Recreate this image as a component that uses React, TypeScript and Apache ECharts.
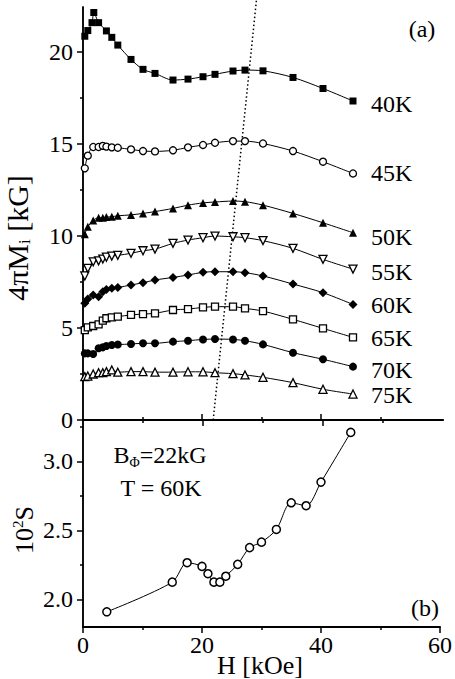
import React, { useEffect, useRef } from "react";
import * as echarts from "echarts";

// Field values H [kOe] of the M(H) curves
const fieldH = [0.3, 0.8, 1.7, 2.6, 3.3, 3.9, 4.8, 5.8, 8, 10, 12, 15, 17.5, 20, 22, 25, 27, 30, 35, 40, 45];
const fieldH40 = [0.3, 0.8, 1.5, 1.8, 2.6, 3.9, 4.8, 5.8, 8, 10, 12, 15, 17.5, 20, 22, 25, 27, 30, 35, 40, 45];

// 4πMi [kG] for each temperature
const m40 = [20.86, 21.17, 21.6, 22.15, 21.6, 21.15, 20.8, 20.38, 19.6, 19.06, 18.84, 18.48, 18.53, 18.66, 18.79, 18.97, 19.02, 18.98, 18.62, 18.02, 17.34];
const m45 = [13.68, 14.37, 14.84, 14.84, 14.9, 14.86, 14.82, 14.8, 14.71, 14.62, 14.6, 14.66, 14.82, 14.95, 15.07, 15.16, 15.16, 15.03, 14.62, 14.04, 13.4];
const m50 = [10.1, 10.5, 10.85, 11.0, 11.0, 11.03, 11.05, 11.1, 11.15, 11.23, 11.33, 11.5, 11.68, 11.8, 11.85, 11.9, 11.87, 11.68, 11.23, 10.72, 10.18];
const m55 = [7.83, 8.24, 8.6, 8.65, 8.75, 8.85, 8.91, 8.95, 9.06, 9.2, 9.29, 9.6, 9.78, 9.91, 10.0, 9.96, 9.91, 9.75, 9.33, 8.73, 8.2];
const m60 = [6.34, 6.58, 6.79, 6.7, 6.97, 7.1, 7.16, 7.2, 7.34, 7.46, 7.61, 7.75, 7.88, 8.03, 8.06, 8.06, 8.01, 7.83, 7.39, 6.92, 6.28];
const m65 = [4.89, 5.04, 5.11, 5.2, 5.4, 5.53, 5.58, 5.62, 5.71, 5.76, 5.8, 5.98, 6.03, 6.12, 6.16, 6.16, 6.07, 5.92, 5.47, 4.98, 4.49];
const m70 = [3.62, 3.62, 3.59, 3.9, 3.95, 4.02, 4.08, 4.1, 4.13, 4.17, 4.17, 4.26, 4.31, 4.38, 4.4, 4.38, 4.31, 4.11, 3.66, 3.3, 2.9];
const m75 = [2.36, 2.39, 2.5, 2.57, 2.57, 2.63, 2.72, 2.6, 2.63, 2.63, 2.6, 2.6, 2.62, 2.62, 2.57, 2.52, 2.45, 2.32, 2.03, 1.67, 1.41];

const tempLabels = ["40K", "45K", "50K", "55K", "60K", "65K", "70K", "75K"];

// dotted guide line (H, M)
const dotH = [21.7, 28.9];
const dotM = [0, 22.8];

// Panel (b): 10^2 S vs H, T = 60K
const sH = [4, 15, 17.5, 20, 21, 22, 23, 24, 26, 28, 30, 32.5, 35, 37.5, 40, 45];
const sVal = [1.91, 2.125, 2.266, 2.239, 2.186, 2.125, 2.125, 2.168, 2.254, 2.375, 2.415, 2.507, 2.7, 2.679, 2.85, 3.21];

// tick values
const xMajor = [0, 20, 40, 60];
const xMinor = [10, 30, 50];
const yTopMajor = [0, 5, 10, 15, 20];
const yTopMinor = [2.5, 7.5, 12.5, 17.5];
const yBotMajor = [2.0, 2.5, 3.0];
const yBotMinor = [2.25, 2.75, 3.25];

const FONT = "'Liberation Serif', 'Times New Roman', serif";

const zip = (xs: number[], ys: number[]) => xs.map((x, i) => [x, ys[i]]);

export default function App() {
  const ref = useRef<HTMLDivElement>(null);
  useEffect(() => {
    if (!ref.current) return;
    const chart = echarts.init(ref.current, undefined, { renderer: "svg" });
    const G0 = { left: 83, top: 7, width: 360, height: 413 };
    const G1 = { left: 83, top: 420, width: 360, height: 207 };
    const black = "#000";

    const xBase = (grid: number, position: string, opts: any) => ({
      type: "value",
      gridIndex: grid,
      position,
      min: 0,
      max: 60,
      splitLine: { show: false },
      axisLine: { show: false, lineStyle: { color: black, width: 1.5 } },
      axisTick: { show: false },
      axisLabel: { show: false },
      ...opts,
    });
    const yBase = (grid: number, position: string, min: number, max: number, opts: any) => ({
      type: "value",
      gridIndex: grid,
      position,
      min,
      max,
      splitLine: { show: false },
      axisLine: { show: false, lineStyle: { color: black, width: 1.5 } },
      axisTick: { show: false },
      axisLabel: { show: false },
      ...opts,
    });
    const tick = (vals: number[], len: number) => ({
      show: true,
      customValues: vals,
      length: len,
      inside: false,
      lineStyle: { color: black, width: 1.5 },
    });

    const lineSeries = (name: string, xs: number[], ys: number[], symbol: string, size: number, filled: boolean, rotate = 0) => ({
      type: "line",
      name,
      xAxisIndex: 0,
      yAxisIndex: 0,
      data: zip(xs, ys),
      smooth: 0.3,
      symbol,
      symbolSize: size,
      symbolRotate: rotate,
      showSymbol: true,
      lineStyle: { color: black, width: 1 },
      itemStyle: { color: filled ? black : "#fff", borderColor: black, borderWidth: filled ? 0 : 1.3 },
      z: 3,
    });

    const labelY = [104, 173, 237, 272, 305, 338, 370, 395];

    chart.setOption({
      animation: false,
      backgroundColor: "#fff",
      textStyle: { fontFamily: FONT },
      grid: [G0, G1],
      xAxis: [
        xBase(0, "bottom", { axisLine: { show: true, lineStyle: { color: black, width: 2 } }, axisTick: tick([20, 40], 6) }),
        xBase(0, "bottom", { axisTick: tick(xMinor, 3) }),
        xBase(0, "top", { axisLine: { show: true, lineStyle: { color: black, width: 1.5 } } }),
        xBase(1, "bottom", {
          axisLine: { show: true, lineStyle: { color: black, width: 2 } },
          axisTick: tick(xMajor, 6),
          axisLabel: { show: true, customValues: xMajor, color: black, fontFamily: FONT, fontSize: 24, margin: 6 },
        }),
        xBase(1, "bottom", { axisTick: tick(xMinor, 3) }),
        xBase(1, "top", { axisTick: tick([20, 40], 6) }),
        xBase(1, "top", { axisTick: tick(xMinor, 3) }),
      ],
      yAxis: [
        yBase(0, "left", 0, 22.45, {
          axisLine: { show: true, lineStyle: { color: black, width: 1.5 } },
          axisTick: tick(yTopMajor, 6),
          axisLabel: { show: true, customValues: yTopMajor, color: black, fontFamily: FONT, fontSize: 24, margin: 10 },
        }),
        yBase(0, "left", 0, 22.45, { axisTick: tick(yTopMinor, 3) }),
        yBase(0, "right", 0, 22.45, { axisLine: { show: true, lineStyle: { color: black, width: 1.5 } } }),
        yBase(1, "left", 1.8, 3.3, {
          axisLine: { show: true, lineStyle: { color: black, width: 1.5 } },
          axisTick: tick(yBotMajor, 6),
          axisLabel: {
            show: true,
            customValues: yBotMajor,
            color: black,
            fontFamily: FONT,
            fontSize: 24,
            margin: 10,
            formatter: (v: number) => v.toFixed(1),
          },
        }),
        yBase(1, "left", 1.8, 3.3, { axisTick: tick(yBotMinor, 3) }),
        yBase(1, "right", 1.8, 3.3, { axisLine: { show: true, lineStyle: { color: black, width: 1.5 } } }),
      ],
      series: [
        {
          type: "line",
          name: "guide",
          xAxisIndex: 0,
          yAxisIndex: 0,
          data: zip(dotH, dotM),
          symbol: "none",
          clip: false,
          lineStyle: { color: black, width: 1.5, type: [1.5, 2.5] },
          z: 2,
        },
        lineSeries("40K", fieldH40, m40, "rect", 7, true),
        lineSeries("45K", fieldH, m45, "circle", 7, false),
        lineSeries("50K", fieldH, m50, "triangle", 8, true),
        lineSeries("55K", fieldH, m55, "triangle", 8, false, 180),
        lineSeries("60K", fieldH, m60, "diamond", 9, true),
        lineSeries("65K", fieldH, m65, "rect", 7, false),
        lineSeries("70K", fieldH, m70, "circle", 8, true),
        lineSeries("75K", fieldH, m75, "triangle", 8, false),
        {
          type: "line",
          name: "S",
          xAxisIndex: 3,
          yAxisIndex: 3,
          data: zip(sH, sVal),
          smooth: 0.3,
          symbol: "circle",
          symbolSize: 8,
          lineStyle: { color: black, width: 1 },
          itemStyle: { color: "#fff", borderColor: black, borderWidth: 1.5 },
          z: 3,
        },
      ],
      graphic: [
        ...tempLabels.map((t, i) => ({
          type: "text",
          x: 371,
          y: labelY[i],
          style: { text: t, fill: black, font: `24px ${FONT}`, align: "left", verticalAlign: "middle" },
        })),
        {
          type: "text",
          x: 422,
          y: 29,
          style: { text: "(a)", fill: black, font: `24px ${FONT}`, align: "center", verticalAlign: "middle" },
        },
        {
          type: "text",
          x: 425,
          y: 608,
          style: { text: "(b)", fill: black, font: `24px ${FONT}`, align: "center", verticalAlign: "middle" },
        },
        {
          type: "text",
          x: 160,
          y: 455,
          style: {
            text: "B{s|Φ}=22kG",
            fill: black,
            font: `24px ${FONT}`,
            align: "center",
            verticalAlign: "middle",
            rich: { s: { fontSize: 14, fontFamily: FONT, padding: [14, 0, 0, 0], fill: black } },
          },
        },
        {
          type: "text",
          x: 161,
          y: 488,
          style: { text: "T = 60K", fill: black, font: `24px ${FONT}`, align: "center", verticalAlign: "middle" },
        },
        {
          type: "text",
          x: 17,
          y: 238,
          rotation: Math.PI / 2,
          style: {
            text: "4πM{s|i} [kG]",
            fill: black,
            font: `30px ${FONT}`,
            align: "center",
            verticalAlign: "middle",
            rich: { s: { fontSize: 17, fontFamily: FONT, padding: [14, 0, 0, 0], fill: black } },
          },
        },
        {
          type: "text",
          x: 24,
          y: 530,
          rotation: Math.PI / 2,
          style: {
            text: "10{p|2}S",
            fill: black,
            font: `26px ${FONT}`,
            align: "center",
            verticalAlign: "middle",
            rich: { p: { fontSize: 15, fontFamily: FONT, padding: [0, 0, 12, 0], fill: black } },
          },
        },
        {
          type: "text",
          x: 260,
          y: 665,
          style: { text: "H [kOe]", fill: black, font: `26px ${FONT}`, align: "center", verticalAlign: "middle" },
        },
      ],
    });
    return () => chart.dispose();
  }, []);
  return <div ref={ref} style={{ width: 455, height: 679, position: "absolute", left: 0, top: 0 }} />;
}
